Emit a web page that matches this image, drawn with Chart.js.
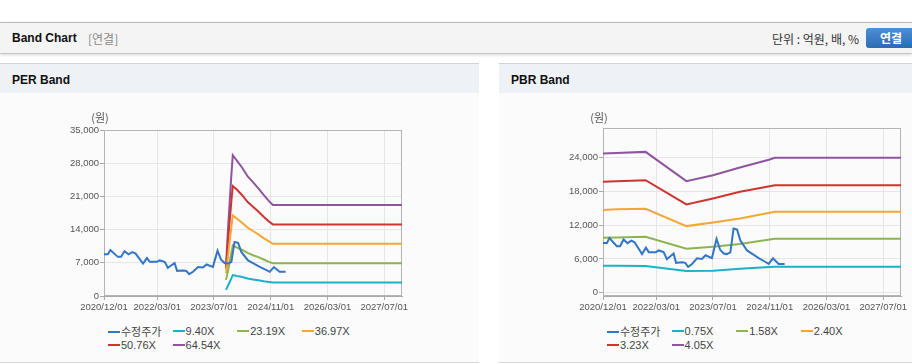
<!DOCTYPE html>
<html>

<head>
    <meta charset="UTF-8" />
    <title>Band Chart</title>
    <style>
        body {
            margin: 0;
            width: 912px;
            height: 364px;
            overflow: hidden;
            background: #fff;
            position: relative;
            font-family: "Liberation Sans", "Noto Sans CJK KR", sans-serif;
        }
        .topbar {
            position: absolute;
            left: 0;
            top: 22px;
            width: 912px;
            height: 30px;
            background: #f4f4f4;
            border-top: 1px solid #b9b9b9;
            border-bottom: 1px solid #c6c6c6;
            box-shadow: 0 1px 3px rgba(0, 0, 0, 0.16);
        }
        .topbar .title {
            position: absolute;
            left: 12px;
            top: 0;
            line-height: 31px;
            font-size: 12px;
            font-weight: bold;
            color: #111;
        }
        .topbar .sub {
            position: absolute;
            left: 88px;
            top: 0;
            line-height: 31px;
            font-size: 12px;
            color: #8a8a8a;
            font-family: "Noto Sans CJK KR", sans-serif;
        }
        .topbar .unit {
            position: absolute;
            right: 53px;
            top: 0;
            line-height: 32px;
            font-size: 12px;
            color: #333;
            font-family: "Noto Sans CJK KR", sans-serif;
        }
        .topbar .btn {
            position: absolute;
            left: 866px;
            top: 5px;
            width: 52px;
            height: 20px;
            border-radius: 3px;
            background: linear-gradient(#4d90d6, #2b6bb4);
            color: #fff;
            font-size: 12px;
            font-weight: bold;
            line-height: 20px;
            padding-left: 14px;
            box-sizing: border-box;
            font-family: "Noto Sans CJK KR", sans-serif;
        }
        .panel {
            position: absolute;
            top: 63px;
            height: 298px;
            background: #fbfbfb;
            border-top: 1px solid #d3d3d3;
            border-bottom: 1px solid #d8d8d8;
        }
        .panel .phead {
            height: 29px;
            line-height: 33px;
            background: #eef2f7;
            padding-left: 12px;
            font-size: 12px;
            font-weight: bold;
            color: #111;
            overflow: hidden;
        }
        .panel canvas {
            display: block;
        }
        .legend {
            position: absolute;
            left: 108px;
            top: 260px;
            width: 260px;
            display: flex;
            flex-wrap: wrap;
            font-size: 11px;
            color: #444;
        }
        .legend .item {
            width: 64.6px;
            height: 13.6px;
            line-height: 14px;
            white-space: nowrap;
        }
        .legend .mark {
            display: inline-block;
            width: 12px;
            height: 2px;
            vertical-align: middle;
            margin-right: 1px;
            margin-bottom: 2px;
        }
        .legend .ko {
            font-family: "Noto Sans CJK KR", sans-serif;
        }
    </style>
</head>

<body>
    <div class="topbar">
        <span class="title">Band Chart</span>
        <span class="sub">[연결]</span>
        <span class="unit">단위 : 억원, 배, %</span>
        <span class="btn">연결</span>
    </div>

    <div class="panel" style="left:0; width:479px;">
        <div class="phead">PER Band</div>
        <canvas id="perChart" width="479" height="225"></canvas>
        <div class="legend" id="perLegend"></div>
    </div>

    <div class="panel" style="left:499px; width:413px;">
        <div class="phead">PBR Band</div>
        <canvas id="pbrChart" width="413" height="225"></canvas>
        <div class="legend" id="pbrLegend"></div>
    </div>

    <script src="https://cdn.jsdelivr.net/npm/chart.js@4/dist/chart.umd.min.js"></script>
    <script>
        // x = months since 2020/12/01
        const xTickMonths = [0, 15, 31, 47, 63, 79];
        const xTickLabels = ['2020/12/01', '2022/03/01', '2023/07/01', '2024/11/01', '2026/03/01', '2027/07/01'];
        const unitLabel = '(원)';

        const priceName = '수정주가';
        const priceMonths = [0, 1.1, 1.8, 3.9, 4.8, 5.8, 6.9, 8.0, 8.9, 11.0, 12.1, 12.9, 14.9, 15.7, 17.1, 18.0,
            19.9, 20.6, 22.3, 23.2, 24.0, 25.1, 26.5, 27.9, 28.9, 30.7, 32.0, 33.0, 34.0, 34.9, 35.9, 36.8,
            37.8, 38.7, 40.6, 42.5, 43.9, 45.8, 46.7, 47.9, 49.5, 51.2];
        const priceValues = [8800, 8800, 9700, 8250, 8250, 9450, 8800, 9250, 8950, 6850, 8000, 7200, 7200, 7500, 7200, 5950,
            6950, 5300, 5400, 5300, 4600, 5100, 6100, 6000, 6650, 6150, 9550, 7650, 6950, 6850, 7150, 11400,
            11200, 9300, 7500, 6700, 6150, 5450, 5100, 6100, 5100, 5100];

        // PER band
        const perBandNames = ['9.40X', '23.19X', '36.97X', '50.76X', '64.54X'];
        const perBandMonths = [34.4, 34.9, 35.4, 35.9, 36.3, 37.5, 39, 40.5, 42, 43.5, 45, 46.5, 47.6, 84];
        const perBand1 = [1300, 2100, 2900, 3700, 4400, 4200, 4000, 3700, 3500, 3300, 3100, 2950, 2850, 2850];
        const perBand2 = [3400, 5100, 7100, 9100, 10700, 10200, 9700, 9100, 8600, 8200, 7700, 7200, 6900, 6900];
        const perBand3 = [4800, 8000, 11300, 14500, 17000, 16300, 15400, 14400, 13700, 13000, 12200, 11500, 11000, 11000];
        const perBand4 = [5800, 11000, 15500, 20000, 23200, 22400, 21200, 19800, 18800, 17800, 16700, 15700, 15100, 15100];
        const perBand5 = [6300, 13500, 19500, 25500, 29700, 28500, 27000, 25200, 24000, 22700, 21300, 20000, 19200, 19200];
        const perYTicks = [0, 7000, 14000, 21000, 28000, 35000];

        // PBR band
        const pbrBandNames = ['0.75X', '1.58X', '2.40X', '3.23X', '4.05X'];
        const pbrBandMonths = [0, 3.8, 12, 23.5, 31, 38.6, 47, 48.4, 84];
        const pbrBand1 = [4790, 4790, 4750, 3840, 3900, 4260, 4550, 4610, 4610];
        const pbrBand2 = [9750, 9800, 9930, 7800, 8160, 8630, 9450, 9570, 9570];
        const pbrBand3 = [14660, 14800, 14890, 11820, 12470, 13180, 14200, 14360, 14360];
        const pbrBand4 = [19680, 19800, 19980, 15660, 16730, 17910, 18910, 19090, 19090];
        const pbrBand5 = [24700, 24820, 25000, 19800, 20860, 22220, 23640, 23940, 23940];
        const pbrYTicks = [0, 6000, 12000, 18000, 24000];

        const seriesColors = ['#3476c6', '#1fb0c6', '#8cb552', '#f4a733', '#cf3430', '#8e559e'];

        Chart.defaults.font.family = '"Liberation Sans", sans-serif';

        function pts(xs, ys) {
            return xs.map(function (x, i) { return { x: x, y: ys[i] }; });
        }

        const framePlugin = {
            id: 'frame',
            beforeDatasetsDraw(chart) {
                const ctx = chart.ctx, a = chart.chartArea;
                ctx.save();
                ctx.strokeStyle = '#b4b4b4';
                ctx.lineWidth = 1;
                ctx.strokeRect(Math.round(a.left) + 0.5, Math.round(a.top) + 0.5,
                    Math.round(a.right - a.left) - 1, Math.round(a.bottom - a.top) - 1);
                ctx.restore();
            },
            afterDraw(chart, args, opts) {
                const ctx = chart.ctx, a = chart.chartArea;
                ctx.save();
                ctx.fillStyle = '#555';
                ctx.font = '11px "Noto Sans CJK KR"';
                ctx.textAlign = 'center';
                ctx.textBaseline = 'middle';
                ctx.fillText(unitLabel, a.left - 4, a.top - opts.gap);
                ctx.restore();
            }
        };

        function makeChart(id, legendId, bandNames, bandMonths, bands, yTicks, yMin, yMax, padTop, padRight, gap) {
            const datasets = [{
                label: priceName,
                data: pts(priceMonths, priceValues),
                borderColor: seriesColors[0]
            }];
            bands.forEach(function (b, i) {
                datasets.push({
                    label: bandNames[i],
                    data: pts(bandMonths, b),
                    borderColor: seriesColors[i + 1]
                });
            });
            datasets.forEach(function (d) {
                d.borderWidth = 2;
                d.pointRadius = 0;
                d.tension = 0;
                d.fill = false;
            });

            new Chart(document.getElementById(id), {
                type: 'line',
                data: { datasets: datasets },
                options: {
                    responsive: false,
                    animation: false,
                    layout: { padding: { top: padTop, right: padRight, left: 0, bottom: 0 } },
                    plugins: {
                        legend: { display: false },
                        tooltip: { enabled: false },
                        frame: { gap: gap }
                    },
                    scales: {
                        x: {
                            type: 'linear',
                            min: 0,
                            max: 84,
                            afterBuildTicks: function (axis) {
                                axis.ticks = xTickMonths.map(function (v) { return { value: v }; });
                            },
                            afterFit: function (axis) { axis.height = 22; },
                            ticks: {
                                autoSkip: false,
                                maxRotation: 0,
                                padding: 2,
                                color: '#555',
                                font: { size: 9.5 },
                                callback: function (v, i) { return xTickLabels[i]; }
                            },
                            grid: { color: '#e6e6e6', tickColor: '#aaa', tickLength: 4 },
                            border: { color: '#aaa' }
                        },
                        y: {
                            min: yMin,
                            max: yMax,
                            afterBuildTicks: function (axis) {
                                axis.ticks = yTicks.map(function (v) { return { value: v }; });
                            },
                            afterFit: function (axis) { axis.width = 104; },
                            ticks: {
                                padding: 1,
                                color: '#555',
                                font: { size: 9.5 },
                                callback: function (v) { return v.toLocaleString('en-US'); }
                            },
                            grid: { color: '#e6e6e6', tickColor: '#aaa', tickLength: 4 },
                            border: { color: '#aaa' }
                        }
                    }
                },
                plugins: [framePlugin]
            });

            // legend
            const names = [priceName].concat(bandNames);
            const box = document.getElementById(legendId);
            names.forEach(function (n, i) {
                const item = document.createElement('div');
                item.className = 'item';
                const mark = document.createElement('span');
                mark.className = 'mark';
                mark.style.background = seriesColors[i];
                const txt = document.createElement('span');
                txt.textContent = n;
                if (i === 0) txt.className = 'ko';
                item.appendChild(mark);
                item.appendChild(txt);
                box.appendChild(item);
            });
        }

        makeChart('perChart', 'perLegend', perBandNames, perBandMonths,
            [perBand1, perBand2, perBand3, perBand4, perBand5], perYTicks, 0, 35000, 37, 77, 12.5);
        makeChart('pbrChart', 'pbrLegend', pbrBandNames, pbrBandMonths,
            [pbrBand1, pbrBand2, pbrBand3, pbrBand4, pbrBand5], pbrYTicks, -590, 29240, 35, 11, 10);
    </script>
</body>

</html>
